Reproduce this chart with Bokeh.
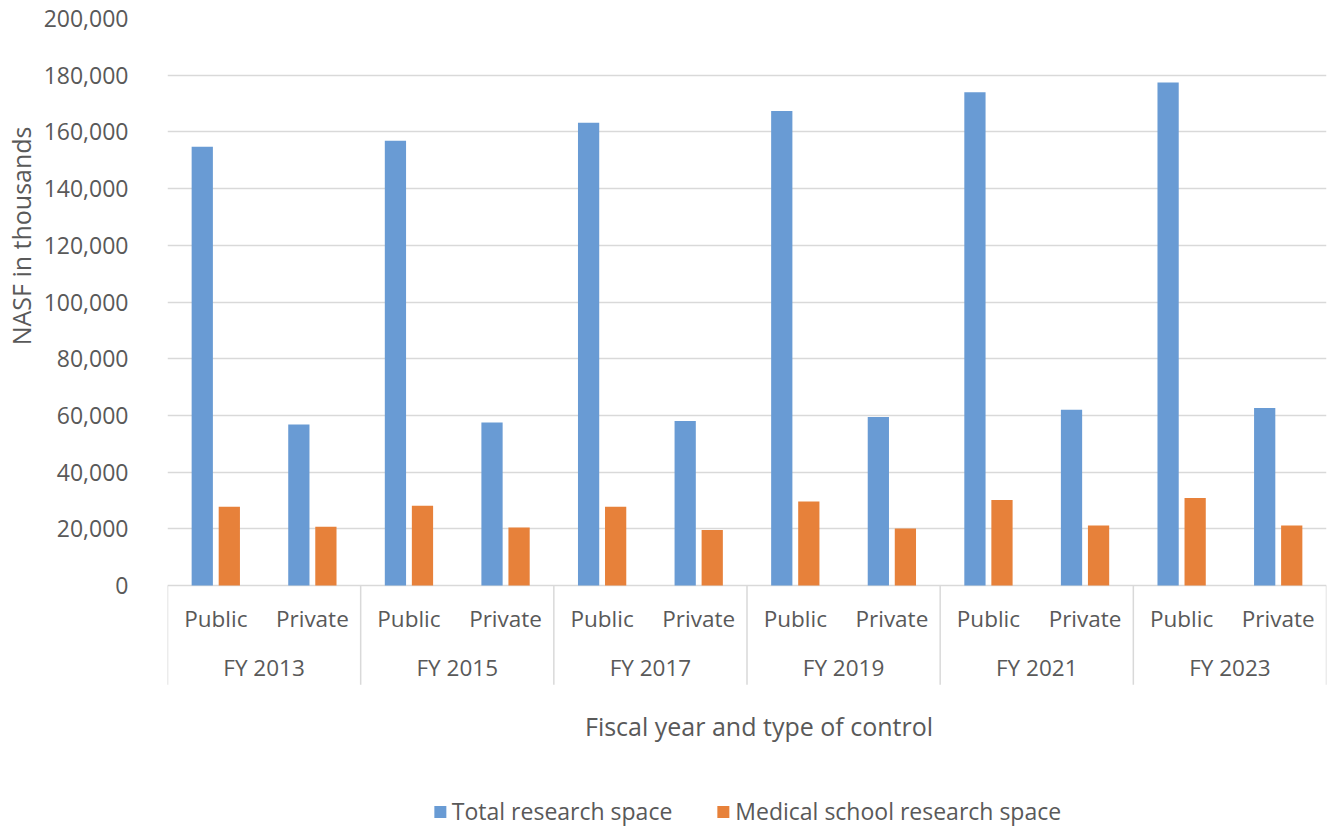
from bokeh.plotting import figure
from bokeh.models import (ColumnDataSource, FactorRange, Range1d, FixedTicker,
                          NumeralTickFormatter, Legend, LegendItem, Title)
from bokeh.transform import dodge
from bokeh.core.properties import value
from bokeh.embed import file_html
from bokeh.resources import INLINE

# ---- data (NASF in thousands) ----
years = ["FY 2013", "FY 2015", "FY 2017", "FY 2019", "FY 2021", "FY 2023"]
controls = ["Public", "Private"]
total_space = [154800, 56800, 156900, 57500, 163200, 58000,
               167400, 59400, 174000, 62000, 177400, 62600]
medical_space = [27800, 20700, 28100, 20500, 27800, 19600,
                 29600, 20100, 30200, 21200, 30900, 21200]
series_names = ["Total research space", "Medical school research space"]
y_ticks = [0, 20000, 40000, 60000, 80000, 100000, 120000, 140000,
           160000, 180000, 200000]
y_title = "NASF in thousands"
x_title = "Fiscal year and type of control"

# ---- styling ----
FONT = "Open Sans"
GREY = "#595959"
GRID = "#D9D9D9"
BLUE = "#699BD4"
ORANGE = "#E7813A"

factors = [(fy, c) for fy in years for c in controls]
source = ColumnDataSource(dict(x=factors, total=total_space, medical=medical_space))

x_range = FactorRange(factors=factors, range_padding=0, factor_padding=0,
                      group_padding=0, subgroup_padding=0)

p = figure(width=1328, height=827, x_range=x_range,
           y_range=Range1d(-85350, 200000),
           x_axis_location=None, output_backend="svg", toolbar_location=None,
           min_border_left=166, min_border_right=2, min_border_top=18,
           min_border_bottom=0)
p.outline_line_color = None
p.xgrid.visible = False

# y axis
p.yaxis.ticker = FixedTicker(ticks=y_ticks)
p.yaxis.formatter = NumeralTickFormatter(format="0,0")
p.yaxis.axis_line_color = None
p.yaxis.major_tick_line_color = None
p.yaxis.minor_tick_line_color = None
p.yaxis.major_label_standoff = 33
p.yaxis.major_label_text_font = FONT
p.yaxis.major_label_text_font_size = "23px"
p.yaxis.major_label_text_color = GREY
p.ygrid.ticker = FixedTicker(ticks=y_ticks)
p.ygrid.grid_line_color = GRID
p.ygrid.grid_line_width = 1.5

p.add_layout(Title(text=y_title, align="right", offset=108, standoff=4,
                   vertical_align="middle",
                   text_font=FONT, text_font_size="25px", text_font_style="normal",
                   text_color=GREY), "left")

# bars
r_total = p.vbar(x=dodge("x", -0.14, range=p.x_range), top="total", bottom=0,
                 width=0.22, source=source, fill_color=BLUE, line_color=None)
r_med = p.vbar(x=dodge("x", 0.14, range=p.x_range), top="medical", bottom=0,
               width=0.22, source=source, fill_color=ORANGE, line_color=None)

# category separators below the axis
sep_x = [(fy, controls[0], -0.5) for fy in years] + [(years[-1], controls[-1], 0.5)]
p.segment(x0=sep_x, x1=sep_x, y0=0, y1=-35000, line_color=GRID, line_width=1.5)

# category labels
p.text(x=factors, y=-11500, text=[c for _, c in factors],
       text_font=value(FONT), text_font_size=value("22.5px"), text_color=GREY,
       text_align="center", text_baseline="middle")
p.text(x=years, y=-28750, text=years,
       text_font=value(FONT), text_font_size=value("22.5px"), text_color=GREY,
       text_align="center", text_baseline="middle")

# x axis title
p.text(x=[len(factors) / 2], y=-49400, text=[x_title], x_offset=12,
       text_font=value(FONT), text_font_size=value("25px"), text_color=GREY,
       text_align="center", text_baseline="middle")

legend = Legend(items=[LegendItem(label=series_names[0], renderers=[r_total]),
                       LegendItem(label=series_names[1], renderers=[r_med])],
                location="bottom_center", orientation="horizontal",
                border_line_color=None, background_fill_alpha=0,
                glyph_width=15, glyph_height=15, label_standoff=5, spacing=43,
                padding=2, margin=0,
                label_text_font=FONT, label_text_font_size="23px",
                label_text_color=GREY)
p.add_layout(legend)

open("out.html", "w").write(file_html(p, INLINE))
